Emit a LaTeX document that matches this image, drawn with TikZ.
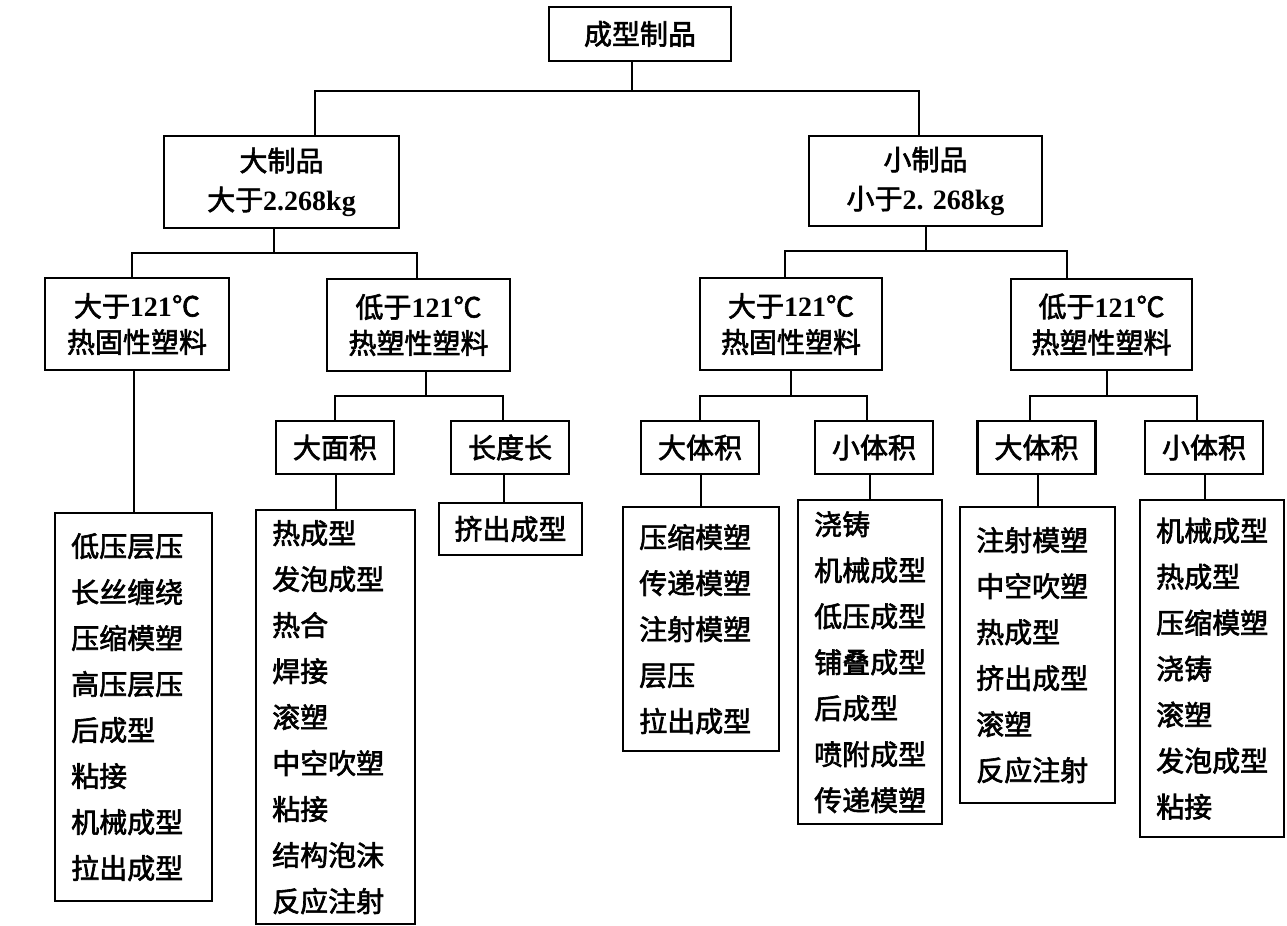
\documentclass[tikz,border=0pt]{standalone}
\usepackage{fontspec}
\newfontfamily\zh[FakeBold=2.2]{Noto Sans CJK SC}
\newfontfamily\latfam{Liberation Serif}
\newcommand\latn[1]{{\latfam\bfseries #1}}
\tikzset{
  conn/.style={line width=1.2pt},
  hbox/.style={draw, line width=1.2pt, inner sep=0pt, align=center,
    font=\zh\fontsize{14pt}{17pt}\selectfont},
  hmid/.style={font=\zh\fontsize{14pt}{18pt}\selectfont},
  hbig/.style={font=\zh\fontsize{14pt}{19.5pt}\selectfont},
  sbox/.style={hbox, minimum width=59pt, minimum height=26.5pt},
  lst/.style={draw, line width=1.2pt, inner xsep=8pt, inner ysep=0pt, align=left,
    anchor=north west, font=\zh\fontsize{14pt}{23pt}\selectfont},
}
\begin{document}
\begin{tikzpicture}[x=0.5pt,y=-0.5pt]
\useasboundingbox (0,0) rectangle (1287,926);
\fill[white] (0,0) rectangle (1287,926);
% level 0
\node[hbox, minimum width=91pt, minimum height=27pt] (top) at (640,34) {成型制品};
% level 1
\node[hbox, hbig, minimum width=117.5pt, minimum height=46pt] (big) at (281.5,182) {大制品\\大于\latn{2.268kg}};
\node[hbox, hbig, minimum width=116.5pt, minimum height=45pt] (small) at (925.5,181) {小制品\\小于\latn{2. 268kg}};
% level 2
\node[hbox, hmid, minimum width=92pt, minimum height=46pt] (L1) at (137,324) {大于\latn{121}℃\\热固性塑料};
\node[hbox, hmid, minimum width=91.5pt, minimum height=46pt] (L2) at (418.5,325) {低于\latn{121}℃\\热塑性塑料};
\node[hbox, hmid, minimum width=91pt, minimum height=46pt] (R1) at (791,324) {大于\latn{121}℃\\热固性塑料};
\node[hbox, hmid, minimum width=90.5pt, minimum height=45.5pt] (R2) at (1101.5,324.5) {低于\latn{121}℃\\热塑性塑料};
% level 3
\node[sbox] (L2a) at (335,447.5) {大面积};
\node[sbox] (L2b) at (510,447.5) {长度长};
\node[sbox] (R1a) at (700,447.5) {大体积};
\node[sbox] (R1b) at (874,447.5) {小体积};
\node[sbox] (R2a) at (1036.5,447.5) {大体积};
\node[sbox] (R2b) at (1204,447.5) {小体积};
% lists
\node[lst, minimum height=194pt, text width=62.5pt] (L1list) at (54,512)
  {低压层压\\长丝缠绕\\压缩模塑\\高压层压\\后成型\\粘接\\机械成型\\拉出成型};
\node[lst, minimum height=207pt, text width=63.5pt] (L2alist) at (255,509)
  {热成型\\发泡成型\\热合\\焊接\\滚塑\\中空吹塑\\粘接\\结构泡沫\\反应注射};
\node[hbox, minimum width=71.5pt, minimum height=26pt] (L2blist) at (510.5,529) {挤出成型};
\node[lst, minimum height=122pt, text width=62pt] (R1alist) at (622,506)
  {压缩模塑\\传递模塑\\注射模塑\\层压\\拉出成型};
\node[lst, minimum height=162pt, text width=56pt] (R1blist) at (797,499)
  {浇铸\\机械成型\\低压成型\\铺叠成型\\后成型\\喷附成型\\传递模塑};
\node[lst, minimum height=148pt, text width=61.5pt] (R2alist) at (959,506)
  {注射模塑\\中空吹塑\\热成型\\挤出成型\\滚塑\\反应注射};
\node[lst, minimum height=168.5pt, text width=56pt] (R2blist) at (1139,499)
  {机械成型\\热成型\\压缩模塑\\浇铸\\滚塑\\发泡成型\\粘接};
% connectors
\coordinate (j0) at (632,91);
\draw[conn] (top.south -| j0) -- (j0);
\coordinate (bigtop) at ([xshift=16.75pt]big.north);
\coordinate (smalltop) at ([xshift=-3.25pt]small.north);
\draw[conn] (bigtop) |- (j0) -| (smalltop);

\coordinate (j1) at (274,253);
\draw[conn] (big.south -| j1) -- (j1);
\coordinate (l1top) at ([xshift=-2.5pt]L1.north);
\coordinate (l2top) at ([xshift=-0.75pt]L2.north);
\draw[conn] (l1top) |- (j1) -| (l2top);

\coordinate (j2) at (926,251);
\draw[conn] (small.south -| j2) -- (j2);
\coordinate (r1top) at ([xshift=-3pt]R1.north);
\coordinate (r2top) at ([xshift=-17.25pt]R2.north);
\draw[conn] (r1top) |- (j2) -| (r2top);

\draw[conn] (L1list.north) -- (L1list.north |- L1.south);

\coordinate (j3) at (426,396);
\draw[conn] (L2.south -| j3) -- (j3);
\coordinate (l2btop) at ([xshift=-3.5pt]L2b.north);
\draw[conn] (L2a.north) |- (j3) -| (l2btop);
\draw[conn] (L2alist.north) -- (L2alist.north |- L2a.south);
\coordinate (c7) at ([xshift=-3.25pt]L2blist.north);
\draw[conn] (c7) -- (c7 |- L2b.south);

\coordinate (j4) at (791,396);
\draw[conn] (R1.south -| j4) -- (j4);
\coordinate (r1btop) at ([xshift=-3.5pt]R1b.north);
\draw[conn] (R1a.north) |- (j4) -| (r1btop);

\coordinate (j5) at (1107,396);
\draw[conn] (R2.south -| j5) -- (j5);
\coordinate (r2atop) at ([xshift=-3.25pt]R2a.north);
\coordinate (r2btop) at ([xshift=-3.5pt]R2b.north);
\draw[conn] (r2atop) |- (j5) -| (r2btop);

\draw[conn] (R1alist.north) -- (R1alist.north |- R1a.south);
\draw[conn] (R1blist.north) -- (R1blist.north |- R1b.south);
\draw[conn] (R2alist.north) -- (R2alist.north |- R2a.south);
\coordinate (c13) at ([xshift=-3.5pt]R2blist.north);
\draw[conn] (c13) -- (c13 |- R2b.south);
\end{tikzpicture}
\end{document}
